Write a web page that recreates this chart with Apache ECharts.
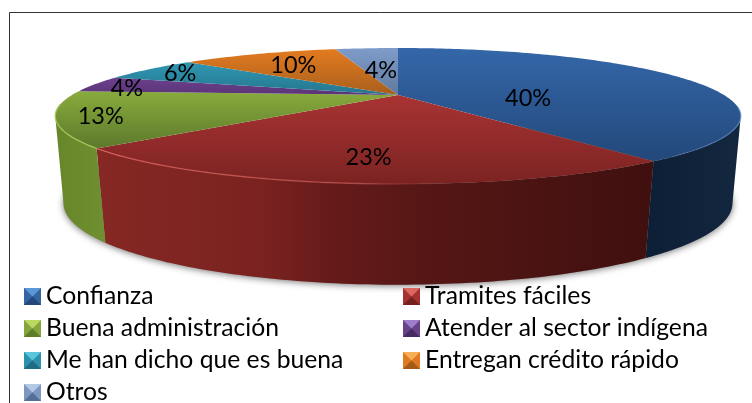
<!DOCTYPE html>
<html><head><meta charset="utf-8">
<style>html,body{margin:0;padding:0;background:#fff}#c{width:752px;height:403px}</style>
<script src="https://cdn.jsdelivr.net/npm/echarts@6/dist/echarts.min.js"></script>
</head><body><div id="c"></div>
<script>
// ---- data ----
const categories = ['Confianza','Tramites fáciles','Buena administración','Atender al sector indígena','Me han dicho que es buena','Entregan crédito rápido','Otros'];
const values = [40,23,13,4,6,10,4];
// ---- style ----
const topFrom  = ['#3467a9','#a93333','#88ab3c','#6c418d','#3097b3','#e37b20','#7f9cca'];
const topTo    = ['#23487a','#7b2322','#5c792c','#5a3477','#25758d','#a85f1c','#5f7a9d'];
const wallStops = [
  [[0,'#0d1f36'],[1,'#13273f']],
  [[0,'#862824'],[.3,'#7a2220'],[.42,'#661b1a'],[.58,'#561715'],[1,'#3f100f']],
  [[0,'#668629'],[1,'#6f8f31']],
  null,null,null,null
];
const rimStops = [
  [[0,'rgba(90,140,200,0)'],[1,'rgba(90,140,200,.6)']],
  [[0,'rgba(225,100,95,.75)'],[.45,'rgba(225,100,95,.5)'],[.62,'rgba(225,100,95,0)'],[1,'rgba(225,100,95,0)']],
  [[0,'rgba(170,200,90,.85)'],[1,'rgba(170,200,90,.85)']],
  null,null,null,null
];
const iconLight = ['#5b97d6','#dc6660','#bcd862','#a07ccc','#5cc6de','#f7ae55','#b4c8e6'];
const iconMid   = ['#34659f','#a53230','#84a63c','#65428a','#2f92ad','#dd7a22','#7d97c0'];
const iconDark  = ['#23497c','#76211f','#5f7c2b','#452b62','#1f6c84','#a55a16','#566f96'];
const labelRadius = [.437,.74,.88,.89,.86,.71,.48];
const labelDy     = [11,4,1,3,1,2,1];
const LABEL_FONT = 'Lato';
const topPlane = {cx:398, cy:95, A:326, B:61.5, k:.309};
const botPlane = {cx:398, cy:179, A:319, B:74, k:.30};
const WALL_FROM = 108*Math.PI/180, WALL_TO = 252*Math.PI/180;

const total = values.reduce((a,b)=>a+b,0);
function project(p, theta, r){
  const u = r*Math.sin(theta), v = -r*Math.cos(theta), d = 1 - p.k*v;
  return [p.cx + p.A*u/d, p.cy + p.B*v/d];
}
function arc(p,a,b,n){const out=[];for(let i=0;i<=n;i++){out.push(project(p,a+(b-a)*i/n,1));}return out;}
function hGrad(stops){return new echarts.graphic.LinearGradient(0,0,1,0,stops.map(s=>({offset:s[0],color:s[1]})));}

function renderSlice(idx){
  return function(params, api){
    const val = api.value(0);
    let before = 0; for(let i=0;i<idx;i++) before += values[i];
    const a = before/total*2*Math.PI, b = (before+val)/total*2*Math.PI;
    const n = Math.max(6, Math.round((b-a)/(Math.PI/180)));
    const kids = [];
    // contact shadow
    kids.push({type:'polygon',z2:-1,shape:{points:[project(botPlane,a,0)].concat(arc(botPlane,a,b,n))},
      style:{fill:'#999',shadowBlur:7,shadowColor:'rgba(0,0,0,.55)',shadowOffsetY:1}});
    // wall (only where it faces the viewer)
    const wa=Math.max(a,WALL_FROM), wb=Math.min(b,WALL_TO);
    if(wb>wa && wallStops[idx]){
      const pts=arc(topPlane,wa,wb,n).concat(arc(botPlane,wa,wb,n).reverse());
      kids.push({type:'polygon',z2:1,shape:{points:pts},style:{fill:hGrad(wallStops[idx])}});
    }
    // top face
    const t1=arc(topPlane,a,b,n);
    kids.push({type:'polygon',z2:2,shape:{points:[project(topPlane,a,0)].concat(t1)},
      style:{fill:new echarts.graphic.LinearGradient(0,0,0,1,[{offset:0,color:topFrom[idx]},{offset:1,color:topTo[idx]}])}});
    // front rim highlight
    const ra=Math.max(a,100*Math.PI/180), rb=Math.min(b,262*Math.PI/180);
    if(rb>ra && rimStops[idx]){
      kids.push({type:'polyline',z2:3,shape:{points:arc(topPlane,ra,rb,n)},style:{fill:'none',stroke:hGrad(rimStops[idx]),lineWidth:1.4}});
    }
    // value label
    const mid=(a+b)/2, pos=project(topPlane,mid,labelRadius[idx]);
    kids.push({type:'text',z2:10,x:pos[0],y:pos[1]+labelDy[idx],
      style:{text:val+'%',fill:'#000',font:'23.5px '+LABEL_FONT,align:'center',verticalAlign:'middle'}});
    return {type:'group',children:kids};
  };
}
const series = categories.map((name,i)=>({
  type:'custom',name,coordinateSystem:'none',silent:true,animation:false,
  renderItem:renderSlice(i),data:[[values[i]]],itemStyle:{color:iconMid[i]}
}));
function bevelIcon(i){
  const svg="<svg xmlns='http://www.w3.org/2000/svg' width='17' height='17'>"
   +"<rect width='17' height='17' fill='"+iconMid[i]+"'/>"
   +"<polygon points='0,0 17,0 8.5,8.5' fill='"+iconLight[i]+"'/>"
   +"<polygon points='0,17 17,17 8.5,8.5' fill='"+iconDark[i]+"'/></svg>";
  return 'image://data:image/svg+xml;charset=utf-8,'+encodeURIComponent(svg);
}
function legendData(idxs){ return idxs.map(i=>({name:categories[i],icon:bevelIcon(i)})); }
const legendCommon={orient:'vertical',itemWidth:17,itemHeight:17,itemGap:5,selectedMode:false,
  padding:0,textStyle:{fontFamily:LABEL_FONT,fontSize:24.7,color:'#000',lineHeight:27}};
const chart=echarts.init(document.getElementById('c'),null,{renderer:'canvas'});
chart.setOption({
  animation:false,backgroundColor:'#fff',tooltip:{show:false},
  legend:[
    Object.assign({},legendCommon,{left:24,top:283,data:legendData([0,2,4])}),
    Object.assign({},legendCommon,{left:24,top:379,data:legendData([6])}),
    Object.assign({},legendCommon,{left:403,top:283,data:legendData([1,3,5])})
  ],
  graphic:[{type:'polyline',shape:{points:[[9.5,403],[9.5,12.5],[752,12.5]]},style:{fill:'none',stroke:'#333',lineWidth:1},silent:true}],
  series
});
</script></body></html>
